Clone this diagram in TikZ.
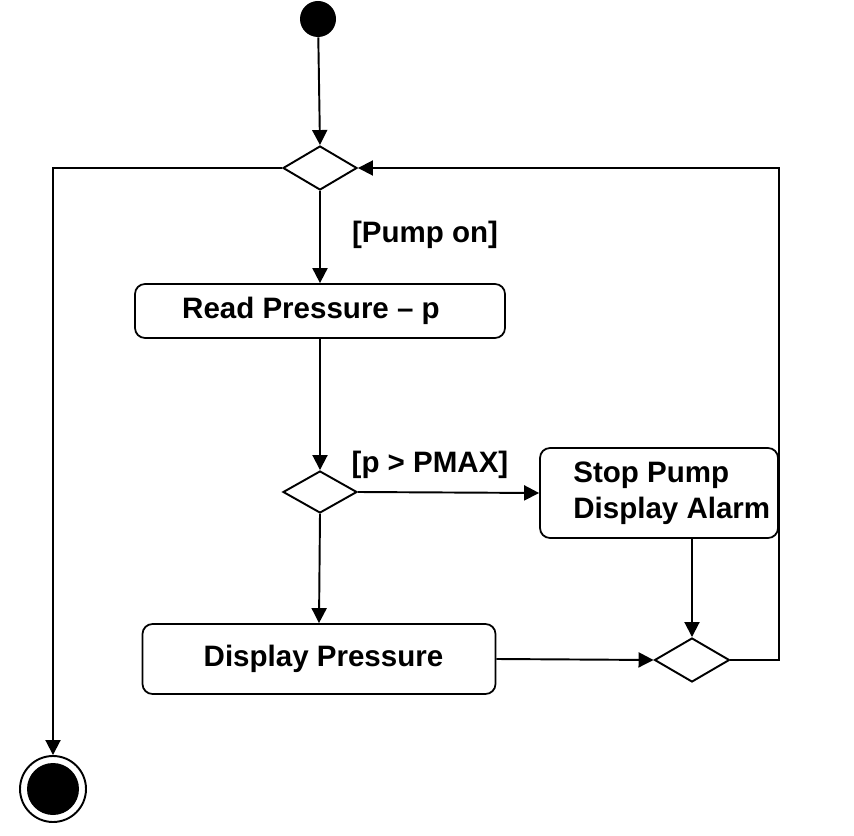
\documentclass[tikz,border=0pt]{standalone}
\usepackage{fontspec}
\setmainfont{Liberation Sans}
\usepackage{tikz}
\usetikzlibrary{shapes.geometric, positioning, arrows.meta}

\tikzset{
	act/.style={draw, line width=1pt, rounded corners=0.2cm, font=\bfseries\fontsize{16.8}{20.5}\selectfont},
	decide/.style={draw, diamond, line width=1.1pt, inner sep=0pt},
	guard/.style={font=\bfseries\fontsize{16.8}{20.5}\selectfont},
	flow/.style={line width=1.1pt, -{Triangle[length=0.3cm, width=0.3cm]}},
	wire/.style={line width=1.1pt}
}

\begin{document}
\begin{tikzpicture}
	\useasboundingbox (0, 0) rectangle (17.08, 16.7);
	% Nodes:
	\node[circle, fill=black, minimum size=0.72cm, inner sep=0pt] (start) at (6.36, 16.32){};
	\node[decide, minimum width=1.48cm, minimum height=0.88cm] (d1) at (6.4, 13.34){};
	\node[act, minimum width=7.4cm, minimum height=1.08cm] (read) at (6.4, 10.48){};
	\node[guard] (readtext) at (6.22, 10.48){Read Pressure -- p};
	\node[decide, minimum width=1.48cm, minimum height=0.84cm] (d2) at (6.4, 6.86){};
	\node[act, minimum width=4.76cm, minimum height=1.8cm] (stop) at (13.18, 6.84){};
	\node[guard, align=left, anchor=west] (stoptext) at ([xshift=0.56cm]stop.west){Stop Pump\\Display Alarm};
	\node[act, minimum width=7.06cm, minimum height=1.4cm] (disp) at (6.38, 3.52){};
	\node[guard] (disptext) at (6.47, 3.52){Display Pressure};
	\node[decide, minimum width=1.5cm, minimum height=0.88cm] (d3) at (13.84, 3.5){};
	\node[circle, draw, line width=1.1pt, minimum size=1.32cm, inner sep=0pt] (end) at (1.06, 0.92){};
	\node[circle, fill=black, minimum size=1.04cm, inner sep=0pt] (endin) at (end){};
	% Labels:
	\node[guard] (pumpon) at (8.5, 12.0){[Pump on]};
	\node[guard] (pmax) at (8.6, 7.4){[p > PMAX]};
	% Paths:
	\draw[flow] (start) -- (d1.north);
	\draw[flow] (d1.west) -| (end.north);
	\draw[flow] (d1.south) -- (read.north);
	\draw[flow] (read.south) -- (d2.north);
	\draw[flow] (d2.east) -- (stop.west);
	\draw[flow] (d2.south) -- (disp.north);
	\draw[flow] (stop.south -| d3.north) -- (d3.north);
	\draw[flow] (disp.east) -- (d3.west);
	\draw[flow] (d3.east) -- (d3.east -| stop.east) |- (d1.east);
\end{tikzpicture}
\end{document}
